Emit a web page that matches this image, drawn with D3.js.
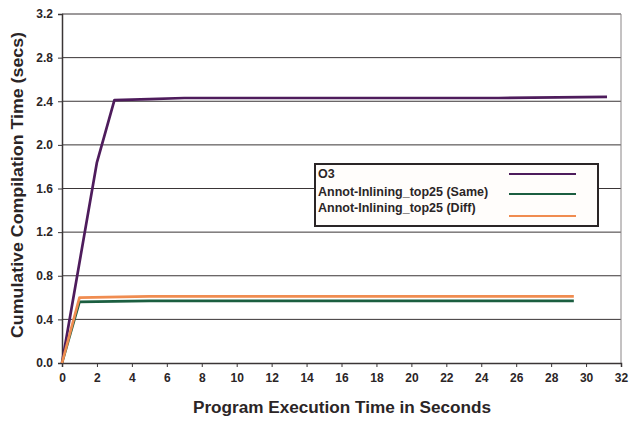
<!DOCTYPE html>
<html>
<head>
<script src="https://d3js.org/d3.v7.min.js"></script>
<style>
  body { margin: 0; background: #fff; }
  text { font-family: "Liberation Sans", Arial, sans-serif; font-weight: bold; fill: #2b2526; }
</style>
</head>
<body>
<svg id="chart"></svg>
<script>
    var Width = 629, Height = 422;

    var xTicks = d3.range(0, 33, 2);
    var yTicks = [0.0, 0.4, 0.8, 1.2, 1.6, 2.0, 2.4, 2.8, 3.2];

    var seriesNames = ["O3", "Annot-Inlining_top25 (Same)", "Annot-Inlining_top25 (Diff)"];
    var seriesColors = ["#4e1c5c", "#1b5e40", "#f08c50"];

    var o3Time   = [0, 2, 3, 5, 7, 10, 15, 20, 25, 31.2];
    var o3Value  = [0, 1.84, 2.41, 2.42, 2.43, 2.43, 2.43, 2.43, 2.43, 2.44];
    var sameTime  = [0, 1, 5, 10, 15, 20, 25, 29.3];
    var sameValue = [0, 0.56, 0.57, 0.57, 0.57, 0.57, 0.57, 0.57];
    var diffTime  = [0, 1, 5, 10, 15, 20, 25, 29.3];
    var diffValue = [0, 0.60, 0.61, 0.61, 0.61, 0.61, 0.61, 0.61];

    var series = [
        {name: seriesNames[0], color: seriesColors[0], t: o3Time, v: o3Value},
        {name: seriesNames[1], color: seriesColors[1], t: sameTime, v: sameValue},
        {name: seriesNames[2], color: seriesColors[2], t: diffTime, v: diffValue}
    ];

    var PlotL = 62, PlotR = 621, PlotT = 14, PlotB = 363;

    var x = d3.scaleLinear().domain([0, 32]).range([PlotL, PlotR]);
    var y = d3.scaleLinear().domain([0, 3.2]).range([PlotB, PlotT]);

    var svg = d3.select("#chart").attr("width", Width).attr("height", Height);

    // grid
    svg.append("g").selectAll("line")
        .data(yTicks.slice(1))
        .enter().append("line")
            .attr("x1", PlotL).attr("x2", PlotR)
            .attr("y1", function(d){ return y(d); })
            .attr("y2", function(d){ return y(d); })
            .attr("stroke", "#3a3536").attr("stroke-width", 1);

    // right border
    svg.append("line")
        .attr("x1", PlotR).attr("x2", PlotR).attr("y1", PlotT).attr("y2", PlotB)
        .attr("stroke", "#8a8586").attr("stroke-width", 1);

    var yAxis = svg.append("g")
        .attr("transform", "translate(" + PlotL + ",0)")
        .call(d3.axisLeft(y).tickValues(yTicks).tickFormat(d3.format(".1f")).tickSize(4).tickPadding(5));
    var xAxis = svg.append("g")
        .attr("transform", "translate(0," + PlotB + ")")
        .call(d3.axisBottom(x).tickValues(xTicks).tickSize(4).tickPadding(6));

    [xAxis, yAxis].forEach(function(a){
        a.select(".domain").attr("stroke", "#3a3536").attr("stroke-width", 1.5);
        a.selectAll(".tick line").attr("stroke", "#3a3536");
        a.selectAll("text").attr("font-size", 12).attr("font-family", null).attr("fill", null);
    });

    var line = d3.line()
        .x(function(d){ return x(d[0]); })
        .y(function(d){ return y(d[1]); });

    svg.append("g").selectAll("path")
        .data(series)
        .enter().append("path")
            .attr("d", function(s){ return line(s.t.map(function(t, i){ return [t, s.v[i]]; })); })
            .attr("fill", "none")
            .attr("stroke", function(s){ return s.color; })
            .attr("stroke-width", 2.7)
            .attr("stroke-linejoin", "round");

    // legend
    var lg = svg.append("g").attr("transform", "translate(315,164)");
    lg.append("rect")
        .attr("width", 283).attr("height", 62)
        .attr("fill", "#fffdfb").attr("stroke", "#2a2526").attr("stroke-width", 2);
    var rows = lg.selectAll("g.row")
        .data(series)
        .enter().append("g")
            .attr("transform", function(d, i){ return "translate(0," + [14, 32, 48][i] + ")"; });
    rows.append("text")
        .attr("x", 3).attr("y", 0)
        .attr("font-size", 12.5)
        .text(function(d){ return d.name; });
    rows.append("line")
        .attr("x1", 194).attr("x2", 261)
        .attr("y1", function(d, i){ return [-4, -2, 4][i]; })
        .attr("y2", function(d, i){ return [-4, -2, 4][i]; })
        .attr("stroke", function(d){ return d.color; })
        .attr("stroke-width", 2);

    // axis titles
    svg.append("text")
        .attr("x", 342).attr("y", 413)
        .attr("text-anchor", "middle").attr("font-size", 16)
        .attr("textLength", 298).attr("lengthAdjust", "spacingAndGlyphs")
        .text("Program Execution Time in Seconds");
    svg.append("text")
        .attr("transform", "translate(23,185) rotate(-90)")
        .attr("text-anchor", "middle").attr("font-size", 16)
        .attr("textLength", 306).attr("lengthAdjust", "spacingAndGlyphs")
        .text("Cumulative Compilation Time (secs)");
</script>
</body>
</html>
